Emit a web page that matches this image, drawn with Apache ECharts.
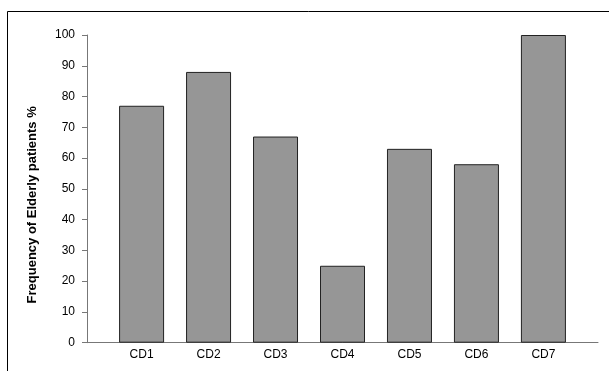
<!DOCTYPE html>
<html>
<head>
<meta charset="utf-8">
<script src="https://cdn.jsdelivr.net/npm/echarts@6/dist/echarts.min.js"></script>
<style>
html,body{margin:0;padding:0;background:#fff;}
#chart{width:609px;height:371px;}
</style>
</head>
<body>
<div id="chart"></div>
<script>
const categories = ['CD1','CD2','CD3','CD4','CD5','CD6','CD7'];
const values = [77, 88, 67, 25, 63, 58, 100];
const yTicks = [0,10,20,30,40,50,60,70,80,90,100];
const yTitle = 'Frequency of Elderly patients %';

const chart = echarts.init(document.getElementById('chart'), null, {renderer:'canvas'});
const font = 'Liberation Sans, Arial, sans-serif';
chart.setOption({
  animation: false,
  backgroundColor: '#fff',
  grid: {left: 87, right: 11, top: 35, bottom: 28.3},
  graphic: [{
    type: 'rect', silent: true,
    shape: {x: 7.5, y: 11.5, width: 620, height: 380},
    style: {fill: 'none', stroke: '#000', lineWidth: 1}
  }],
  xAxis: {
    type: 'value',
    min: -0.815, max: 6.815,
    splitLine: {show: false},
    axisLine: {show: true, onZero: false, lineStyle: {color: '#777', width: 1}},
    axisTick: {show: false},
    axisLabel: {
      customValues: categories.map((c,i)=>i),
      formatter: v => categories[Math.round(v)] || '',
      color: '#000', fontFamily: font, fontSize: 12, margin: 6
    }
  },
  yAxis: {
    type: 'value', min: 0, max: 100, interval: 10,
    name: yTitle,
    nameLocation: 'middle',
    nameGap: 48,
    nameTextStyle: {fontFamily: font, fontSize: 13, fontWeight: 'bold', color: '#000', padding: [0, 32, 0, 0]},
    splitLine: {show: false},
    axisLine: {show: true, onZero: false, lineStyle: {color: '#777', width: 1}},
    axisTick: {show: true, inside: false, length: 5, lineStyle: {color: '#777'}},
    axisLabel: {color: '#000', fontFamily: font, fontSize: 12, margin: 12,
      customValues: yTicks}
  },
  series: [{
    type: 'bar',
    data: values.map((v,i)=>[i,v]),
    barWidth: 45,
    itemStyle: {color: '#969696', borderColor: '#222', borderWidth: 1}
  }]
});
</script>
</body>
</html>
